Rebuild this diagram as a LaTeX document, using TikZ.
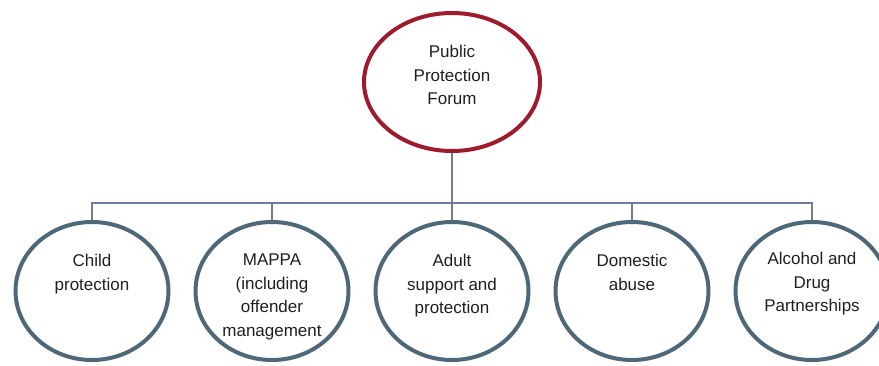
\documentclass[tikz,border=0pt]{standalone}
\usepackage{fontspec}
\setmainfont{Liberation Sans}
\usetikzlibrary{positioning,shapes.geometric}
\definecolor{forumred}{RGB}{158,27,46}
\definecolor{ringblue}{RGB}{78,104,120}
\definecolor{busblue}{RGB}{112,124,160}
\tikzset{
  forum/.style={ellipse, draw=forumred, line width=4pt, minimum width=176pt, minimum height=138pt, inner sep=0pt},
  group/.style={ellipse, draw=ringblue, line width=4pt, minimum width=153pt, minimum height=138pt, inner sep=0pt},
  caption/.style={align=center, inner sep=0pt, font=\fontsize{17}{23.5}\selectfont, text=black!88},
  bus/.style={draw=busblue, line width=1.5pt}
}
\begin{document}
\begin{tikzpicture}[x=1pt, y=-1pt]
\useasboundingbox (0,0) rectangle (879,365);
\clip (0,0) rectangle (879,365);
% Forum oben
\node[forum] (ppf) at (452,82) {};
\node[caption, below=34pt of ppf.north] (ppftext) {Public\\Protection\\Forum};
% Gruppen unten
\node[group] (c1) at (92,291) {};
\node[group] (c2) at (272,291) {};
\node[group] (c3) at (452,291) {};
\node[group] (c4) at (632,291) {};
\node[group] (c5) at (812,291) {};
\node[caption, below=34pt of c1.north] (c1text) {Child\\protection};
\node[caption, below=34pt of c2.north] (c2text) {MAPPA\\(including\\offender\\management};
\node[caption, below=34pt of c3.north] (c3text) {Adult\\support and\\protection};
\node[caption, below=34pt of c4.north] (c4text) {Domestic\\abuse};
\node[caption, below=32pt of c5.north] (c5text) {Alcohol and\\Drug\\Partnerships};
% Verbindungen
\coordinate (split) at (452,203);
\draw[bus] (ppf.south) -- (split);
\foreach \c in {c1,c2,c3,c4,c5}
  \draw[bus] (split) -| (\c.north);
\end{tikzpicture}
\end{document}
